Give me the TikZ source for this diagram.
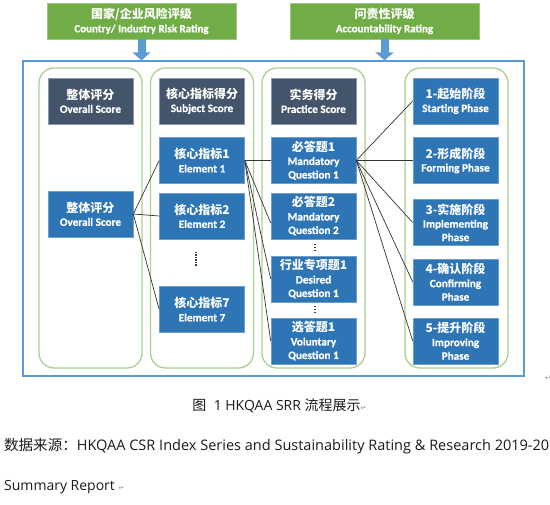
\documentclass[tikz,border=0pt]{standalone}
\usepackage{fontspec}
\setmainfont{Carlito}[BoldFeatures={FakeBold=0.8}]
\newfontfamily\cjkfont{Noto Sans CJK SC}
\newfontfamily\capfont{Open Sans}
\newfontfamily\symfont{DejaVu Sans}
\usetikzlibrary{arrows.meta}
\definecolor{hgreen}{HTML}{70AD47}
\definecolor{cgreen}{HTML}{A9D18E}
\definecolor{bblue}{HTML}{2E75B6}
\definecolor{dslate}{HTML}{44546A}
\definecolor{lblue}{HTML}{5B9BD5}
\definecolor{capgray}{HTML}{1A1A1A}
\newcommand\cn[1]{{\cjkfont\bfseries\fontsize{12}{13.5}\selectfont #1}}
\newcommand\retmark{{\symfont\color{black!45}\fontsize{7}{7}\selectfont ↵}}
\tikzset{
 hdr/.style={fill=hgreen, draw=hgreen!70!white, line width=0.6pt, minimum width=189pt, minimum height=36pt, inner sep=0pt, text=white, align=center, font=\bfseries\fontsize{11}{14}\selectfont},
 col/.style={draw=cgreen, line width=1.3pt, rounded corners=15pt, minimum width=103pt, minimum height=300pt, inner sep=0pt},
 box/.style={minimum width=85pt, minimum height=46pt, inner sep=0pt, text=white, align=center, font=\bfseries\fontsize{11.2}{13.5}\selectfont, line width=0.6pt},
 bbox/.style={box, fill=bblue, draw=bblue!70!white},
 dbox/.style={box, fill=dslate, draw=dslate!60!white},
 link/.style={draw=black!80, line width=0.7pt},
 bigarrow/.style={lblue, line width=8pt, -{Triangle[width=18pt,length=8pt]}},
 outerbox/.style={draw=lblue, line width=1.3pt, minimum width=501pt, minimum height=315pt, inner sep=0pt},
 captext/.style={inner sep=0pt, text=capgray, font=\capfont\fontsize{14}{16}\selectfont},
}
\begin{document}
\begin{tikzpicture}[x=1pt,y=-1pt]
\useasboundingbox (0,0) rectangle (550,505);
% top headers
\node[hdr] (g1) at (141.5,21) {\cn{国家/企业风险评级}\\Country/ Industry Risk Rating};
\node[hdr] (g2) at (384.5,21) {\cn{问责性评级}\\Accountability Rating};
% outer frame
\node[outerbox] (outer) at (273.5,218.5) {};
\draw[bigarrow] (g1.south) -- (g1.south |- outer.north);
\draw[bigarrow] (g2.south) -- (g2.south |- outer.north);
% columns
\node[col] (c1) at (90.5,218) {};
\node[col] (c2) at (202,218) {};
\node[col] (c3) at (313.5,218) {};
\node[col] (c4) at (456.5,218) {};
% column headers
\node[dbox] (h1) at (90.5,101) {\cn{整体评分}\\Overall Score};
\node[dbox] (h2) at (202,101) {\cn{核心指标得分}\\Subject Score};
\node[dbox] (h3) at (313.5,101) {\cn{实务得分}\\Practice Score};
% column 1
\node[bbox] (ov) at (90.5,214) {\cn{整体评分}\\Overall Score};
% column 2
\node[bbox] (e1) at (202,160.5) {\cn{核心指标1}\\Element 1};
\node[bbox] (e2) at (202,216) {\cn{核心指标2}\\Element 2};
\node[bbox] (e7) at (202,309.5) {\cn{核心指标7}\\Element 7};
% column 3
\node[bbox] (q1) at (313.5,160.5) {\cn{必答题1}\\Mandatory\\Question 1};
\node[bbox] (q2) at (313.5,216) {\cn{必答题2}\\Mandatory\\Question 2};
\node[bbox] (d1) at (313.5,279) {\cn{行业专项题1}\\Desired\\Question 1};
\node[bbox] (v1) at (313.5,341) {\cn{选答题1}\\Voluntary\\Question 1};
% column 4
\node[bbox] (p1) at (455.5,101) {\cn{1-起始阶段}\\Starting Phase};
\node[bbox] (p2) at (455.5,160.5) {\cn{2-形成阶段}\\Forming Phase};
\node[bbox] (p3) at (455.5,222.5) {\cn{3-实施阶段}\\Implementing\\Phase};
\node[bbox] (p4) at (455.5,282) {\cn{4-确认阶段}\\Confirming\\Phase};
\node[bbox] (p5) at (455.5,341) {\cn{5-提升阶段}\\Improving\\Phase};
% dots
\draw[black!75, line width=1.1pt, dash pattern=on 1.1pt off 1.4pt] (196,252) -- (196,267);
\draw[black!75, line width=1.1pt, dash pattern=on 1.1pt off 1.8pt] (315,244) -- (315,251.5);
\draw[black!75, line width=1.1pt, dash pattern=on 1.1pt off 1.8pt] (315,306) -- (315,313.5);
% connectors
\draw[link] (ov.east) -- (e1.west);
\draw[link] (ov.east) -- (e2.west);
\draw[link] (ov.east) -- (e7.west);
\draw[link] (e1.east) -- (q1.west);
\draw[link] (e1.east) -- ([yshift=-7pt]q2.west);
\draw[link] (e1.east) -- (d1.west);
\draw[link] (e1.east) -- (v1.west);
\draw[link] (q1.east) -- (p1.west);
\draw[link] (q1.east) -- (p2.west);
\draw[link] (q1.east) -- (p3.west);
\draw[link] (q1.east) -- (p4.west);
\draw[link] (q1.east) -- (p5.west);
% tiny return mark
\node[inner sep=0pt] (rm) at (548,378) {\retmark};
% caption
\node[captext] (cap1) at (279.5,406) {{\cjkfont 图}\ \ 1 HKQAA SRR {\cjkfont 流程展示}\retmark};
\node[captext, anchor=west] (cap2) at (4,446) {\resizebox{545pt}{!}{{\cjkfont 数据来源：}HKQAA CSR Index Series and Sustainability Rating \& Research 2019-20}};
\node[captext, anchor=west] (cap3) at (4,487) {Summary Report \retmark};
\end{tikzpicture}
\end{document}
